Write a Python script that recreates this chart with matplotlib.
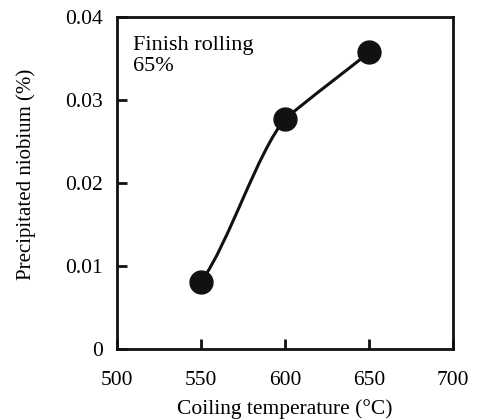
import matplotlib
matplotlib.use("Agg")
import matplotlib.pyplot as plt
from matplotlib.path import Path
from matplotlib.patches import PathPatch

temps = [550, 600, 650]
niobium = [0.0081, 0.0277, 0.0357]
# tangent slopes (d niobium / d temperature) of the drawn smooth curve at each point
slopes_in = [0.00028, 0.00024, 0.00016]
slopes_out = [0.00028, 0.00017, 0.00016]

xticks = [500, 550, 600, 650, 700]
yticks = [0, 0.01, 0.02, 0.03, 0.04]
ytick_labels = ["0", "0.01", "0.02", "0.03", "0.04"]

plt.rcParams['font.family'] = ['Liberation Serif', 'DejaVu Serif']

fig = plt.figure(figsize=(4.78, 4.19), dpi=100)
ax = fig.add_axes([0.245, 0.167, 0.703, 0.793])

# smooth curve through points (cubic Hermite segments as Bezier)
verts = [(temps[0], niobium[0])]
codes = [Path.MOVETO]
for i in range(len(temps) - 1):
    x0, y0 = temps[i], niobium[i]
    x1, y1 = temps[i + 1], niobium[i + 1]
    d = (x1 - x0) / 3.0
    verts += [(x0 + d, y0 + d * slopes_out[i]),
              (x1 - d, y1 - d * slopes_in[i + 1]),
              (x1, y1)]
    codes += [Path.CURVE4] * 3
ax.add_patch(PathPatch(Path(verts, codes), facecolor='none',
                       edgecolor='#111111', lw=2.2, zorder=2))
ax.plot(temps, niobium, 'o', color='#111111', markersize=16.5, zorder=3)

ax.set_xlim(500, 700)
ax.set_ylim(0, 0.04)
ax.set_xticks(xticks)
ax.set_yticks(yticks)
ax.set_yticklabels(ytick_labels)
ax.tick_params(direction='in', length=7, width=2, labelsize=15.5,
               color='#111111')
ax.tick_params(axis='x', pad=16)
ax.tick_params(axis='y', pad=10)
for s in ax.spines.values():
    s.set_linewidth(2)
    s.set_color('#111111')

ax.set_xlabel('Coiling temperature (°C)', fontsize=15.5, va='bottom')
ax.xaxis.set_label_coords(0.5, -0.21)
ax.set_ylabel('Precipitated niobium (%)', fontsize=15, va='center')
ax.yaxis.set_label_coords(-0.272, 0.527)

ax.text(0.047, 0.942, 'Finish rolling\n65%', transform=ax.transAxes,
        fontsize=16, va='top', ha='left', linespacing=1.12)

fig.savefig('out.png', dpi=100)
